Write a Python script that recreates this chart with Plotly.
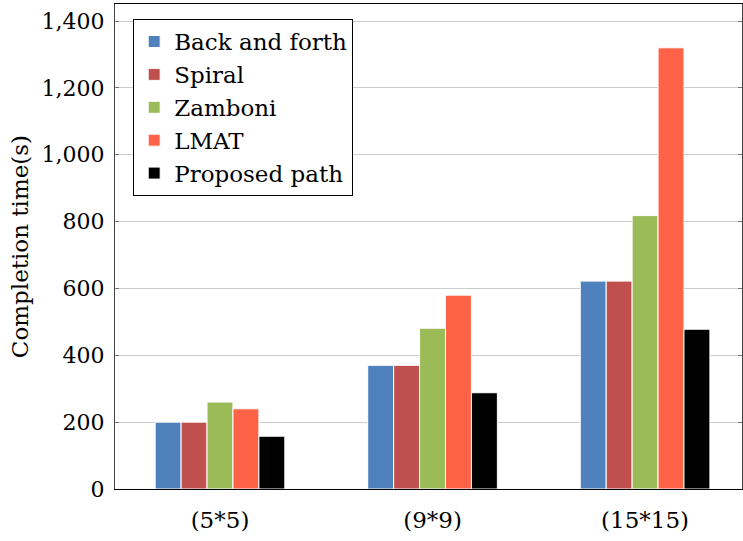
import plotly.graph_objects as go

categories = ["(5*5)", "(9*9)", "(15*15)"]
series_names = ["Back and forth", "Spiral", "Zamboni", "LMAT", "Proposed path"]
back_and_forth = [200, 370, 622]
spiral = [200, 370, 622]
zamboni = [260, 481, 818]
lmat = [240, 580, 1320]
proposed = [158, 288, 478]
colors = ["#4f81bd", "#c0504d", "#9bbb59", "#ff6347", "#000000"]

values = [back_and_forth, spiral, zamboni, lmat, proposed]
font_family = "DejaVu Serif"

fig = go.Figure()
for name, vals, col in zip(series_names, values, colors):
    fig.add_trace(go.Bar(
        x=[0, 1, 2], y=vals, name=name,
        marker=dict(color=col, line=dict(color="white", width=1)),
    ))

fig.update_layout(
    width=743, height=541,
    margin=dict(l=115, r=1, t=4, b=52),
    paper_bgcolor="white", plot_bgcolor="white",
    barmode="group", bargap=0.39, bargroupgap=0,
    font=dict(family=font_family, size=23, color="black"),
    showlegend=True,
    legend=dict(
        x=0.029, y=0.969, xanchor="left", yanchor="top",
        bordercolor="black", borderwidth=1, bgcolor="white",
        font=dict(family=font_family, size=23),
        tracegroupgap=0, itemwidth=30,
    ),
    xaxis=dict(
        range=[-0.494, 2.456], automargin=False,
        tickmode="array", tickvals=[0, 1, 2], ticktext=categories,
        showgrid=False, zeroline=False,
        showline=True, linecolor="black", linewidth=1, mirror=True,
        ticks="", tickfont=dict(size=23), ticklabelstandoff=10,
    ),
    yaxis=dict(
        range=[0, 1451], tickvals=[0, 200, 400, 600, 800, 1000, 1200, 1400],
        tickformat=",", automargin=False,
        showgrid=True, gridcolor="#cccccc", gridwidth=1,
        zeroline=False,
        showline=True, linecolor="#444444", linewidth=1, mirror="ticks",
        ticks="inside", ticklen=4, tickcolor="#777777",
        tickfont=dict(size=22), ticklabelstandoff=5,
    ),
    annotations=[dict(
        text="Completion time(s)", xref="paper", yref="paper",
        x=-0.152, y=0.5, xanchor="center", yanchor="middle",
        textangle=-90, showarrow=False, font=dict(size=23),
    )],
)

fig.write_html("out.html", config={"displayModeBar": False},
               post_script="document.body.style.margin='0';document.body.style.overflow='hidden';")
